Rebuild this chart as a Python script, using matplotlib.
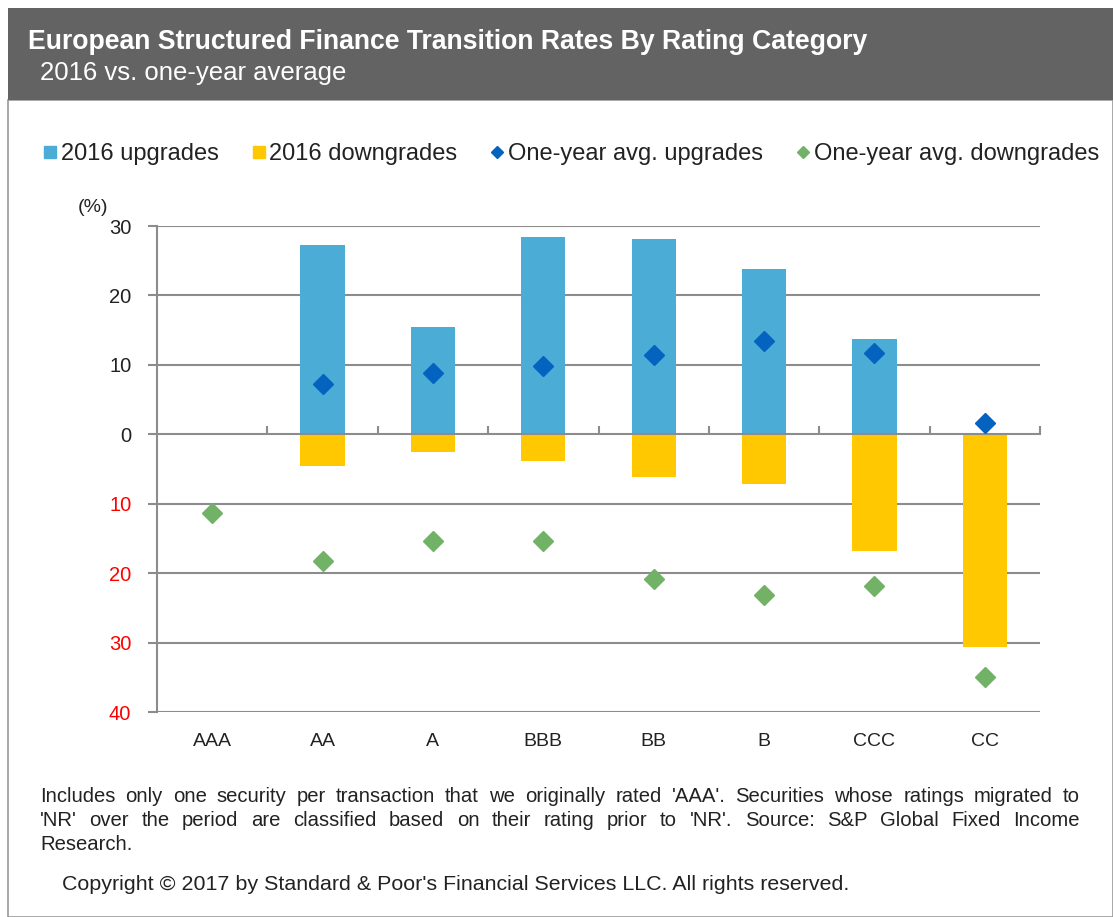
import matplotlib
matplotlib.use("Agg")
import matplotlib.pyplot as plt
from matplotlib.patches import Rectangle
from matplotlib.lines import Line2D
import matplotlib.transforms as mtransforms

plt.rcParams['font.family'] = ['Liberation Sans', 'DejaVu Sans']

categories = ["AAA", "AA", "A", "BBB", "BB", "B", "CCC", "CC"]
upgrades_2016 = [0.0, 27.2, 15.4, 28.4, 28.1, 23.8, 13.7, 0.0]
downgrades_2016 = [0.0, 4.5, 2.5, 3.9, 6.2, 7.1, 16.8, 30.7]
avg_upgrades = [None, 7.3, 8.8, 9.9, 11.4, 13.4, 11.7, 1.6]
avg_downgrades = [11.4, 18.2, 15.4, 15.4, 20.9, 23.2, 21.8, 34.9]
yticks = [30, 20, 10, 0, -10, -20, -30, -40]
ytick_labels = ["30", "20", "10", "0", "10", "20", "30", "40"]

c_up = "#4BACD6"
c_down = "#FFC800"
c_avg_up = "#0563C0"
c_avg_down = "#72B266"
grid_c = "#8C8C8C"
text_c = "#222222"

W, H = 1113, 917
fig = plt.figure(figsize=(W / 100, H / 100), dpi=100)

# frame and header
fig.patches.append(Rectangle((8 / W, 0), 1 - 8 / W, 1 - 100 / H, transform=fig.transFigure,
                             facecolor="white", edgecolor="#9A9A9A", lw=1.2, zorder=-2))
fig.patches.append(Rectangle((8 / W, 1 - 100 / H), 1 - 8 / W, 92 / H, transform=fig.transFigure,
                             facecolor="#636363", edgecolor="none", zorder=-1))
fig.text(28 / W, 1 - 42 / H, "European Structured Finance Transition Rates By Rating Category",
         color="white", fontsize=19.2, fontweight="bold", va="center", ha="left")
fig.text(40 / W, 1 - 73 / H, "2016 vs. one-year average", color="white", fontsize=18.5,
         va="center", ha="left")

ax = fig.add_axes([157 / W, 1 - 712 / H, 883 / W, 486 / H])
ax.patch.set_alpha(0)
x = list(range(len(categories)))
ax.bar(x, upgrades_2016, width=0.4, color=c_up, zorder=2)
ax.bar(x, [-d for d in downgrades_2016], width=0.4, color=c_down, zorder=2)
xu = [i for i, v in zip(x, avg_upgrades) if v is not None]
yu = [v for v in avg_upgrades if v is not None]
ax.plot(xu, yu, linestyle="none", marker="D", ms=10, color=c_avg_up, zorder=4)
ax.plot(x, [-v for v in avg_downgrades], linestyle="none", marker="D", ms=10,
        color=c_avg_down, zorder=4)

ax.set_xlim(-0.5, len(categories) - 0.5)
ax.set_ylim(-40, 30)
ax.set_yticks(yticks)
ax.set_yticklabels(ytick_labels, fontsize=14.5)
for lab, v in zip(ax.get_yticklabels(), yticks):
    lab.set_color("red" if v < 0 else text_c)
ax.tick_params(axis="y", length=6.5, color=grid_c, width=1.5, pad=12)
for v in yticks:
    if v != 0:
        ax.axhline(v, color=grid_c, lw=1.5, zorder=1)

for s in ["top", "right"]:
    ax.spines[s].set_visible(False)
ax.spines["left"].set_color(grid_c)
ax.spines["left"].set_linewidth(1.5)
ax.spines["bottom"].set_position(("data", 0))
ax.spines["bottom"].set_color(grid_c)
ax.spines["bottom"].set_linewidth(1.5)
ax.spines["bottom"].set_zorder(3)
ax.set_xticks([i + 0.5 for i in x])
ax.set_xticklabels([])
ax.tick_params(axis="x", direction="in", length=6, color=grid_c, width=1.5)
trans = mtransforms.blended_transform_factory(ax.transData, ax.transAxes)
for i, c in zip(x, categories):
    ax.text(i, -0.06, c, transform=trans, ha="center", va="center", fontsize=14, color=text_c)

fig.text(78 / W, 1 - 208 / H, "(%)", fontsize=14, ha="left", va="center", color=text_c)

handles = [
    Line2D([], [], linestyle="none", marker="s", ms=8, color=c_up),
    Line2D([], [], linestyle="none", marker="s", ms=8, color=c_down),
    Line2D([], [], linestyle="none", marker="D", ms=6, color=c_avg_up),
    Line2D([], [], linestyle="none", marker="D", ms=6, color=c_avg_down),
]
labels = ["2016 upgrades", "2016 downgrades", "One-year avg. upgrades", "One-year avg. downgrades"]
leg = fig.legend(handles, labels, loc="center", bbox_to_anchor=(571 / W, 1 - 154 / H), ncol=4,
                 frameon=False, fontsize=17, handlelength=0.6, handletextpad=0.15,
                 columnspacing=1.4)
for t in leg.get_texts():
    t.set_color(text_c)

notes = [
    "Includes only one security per transaction that we originally rated 'AAA'. Securities  whose ratings migrated to",
    "'NR' over the period are classified based on their rating  prior to 'NR'. Source: S&P Global Fixed Income",
    "Research.",
]
note_fs = 14.6
renderer = fig.canvas.get_renderer()
x0, x1 = 40, 1080
for k, line in enumerate(notes):
    ypos = 1 - (797 + k * 24) / H
    if k < len(notes) - 1:
        words = line.split()
        texts = [fig.text(0, ypos, w, fontsize=note_fs, ha="left", va="center", color=text_c)
                 for w in words]
        widths = [t.get_window_extent(renderer).width for t in texts]
        gap = (x1 - x0 - sum(widths)) / (len(words) - 1)
        cur = x0
        for t, w in zip(texts, widths):
            t.set_x(cur / W)
            cur += w + gap
    else:
        fig.text(x0 / W, ypos, line, fontsize=note_fs, ha="left", va="center", color=text_c)
fig.text(62 / W, 1 - 885 / H, "Copyright \u00a9 2017 by Standard & Poor's Financial Services LLC. All rights reserved.",
         fontsize=15.4, ha="left", va="center", color=text_c)

fig.savefig("out.png", dpi=100)
